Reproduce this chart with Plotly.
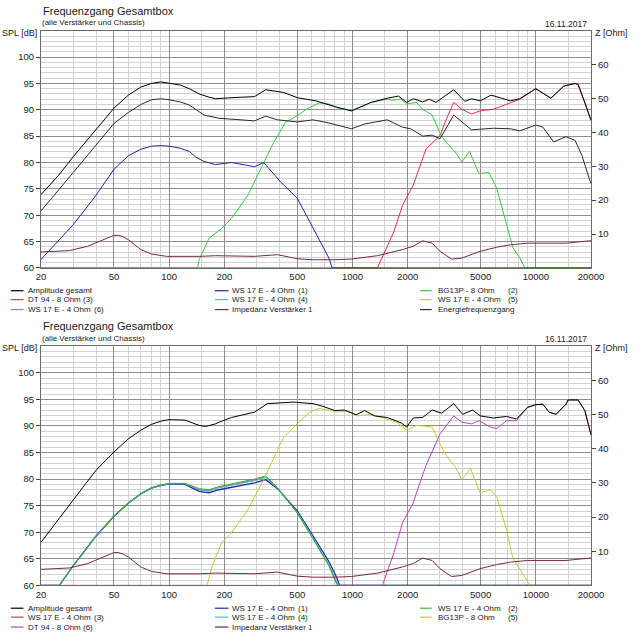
import numpy as np
import plotly.graph_objects as go

W = H = 640


def px(x):
    return x / W


def py(y):
    return 1 - y / H


FONT = "Liberation Sans, Arial, sans-serif"

# ---------------- data: upper chart ----------------
top_amp_f = [20, 25, 30, 35, 40, 45, 50, 55, 60, 70, 80, 90, 100, 115, 129, 146, 165, 179, 220, 292, 336, 421,
             500, 632, 800, 988, 1262, 1546, 1783, 1974, 2144, 2415, 2626, 2850, 3565, 4100, 4460, 4970, 5700,
             7260, 8170, 9990, 12080, 14200, 16370, 17000, 18500, 19700, 20000]
top_amp_db = [73.9, 77.6, 81.1, 83.8, 86.2, 88.4, 90.3, 91.7, 92.8, 94.3, 95.0, 95.3, 95.1, 94.7, 94.0, 93.0,
              92.4, 92.1, 92.3, 92.5, 93.8, 93.3, 92.3, 91.7, 90.6, 89.8, 91.4, 92.2, 92.6, 91.4, 92.1, 91.5,
              92.0, 91.4, 93.8, 91.6, 92.1, 91.7, 92.8, 91.7, 92.1, 94.0, 92.2, 94.5, 95.0, 94.8, 91.4, 88.6,
              88.0]

top_energy_f = [20, 25, 30, 35, 40, 45, 50, 60, 70, 80, 90, 100, 115, 129, 146, 155, 187, 292, 336, 390, 500,
                610, 743, 988, 1164, 1546, 1875, 2076, 2415, 2720, 3000, 3565, 4460, 5870, 7260, 8170, 9990,
                10930, 12500, 14600, 16370, 17850, 19700, 20000]
top_energy_db = [70.8, 74.7, 78.1, 80.9, 83.4, 85.5, 87.4, 89.5, 91.0, 91.9, 92.1, 91.9, 91.5, 90.9, 89.6,
                 89.0, 88.4, 87.9, 88.8, 88.1, 87.7, 88.1, 87.5, 86.4, 87.3, 88.1, 86.7, 86.4, 85.0, 85.2, 84.5,
                 89.0, 86.2, 86.5, 86.4, 86.0, 87.1, 86.7, 83.9, 84.9, 84.2, 81.3, 76.6, 76.0]

top_ws1_f = [20, 25, 30, 35, 40, 45, 50, 60, 70, 80, 90, 100, 115, 129, 140, 155, 179, 219, 292, 328, 406, 500,
             610, 743, 775, 20000]
top_ws1_db = [61.6, 65.2, 68.2, 71.2, 73.8, 76.4, 78.7, 81.3, 82.5, 83.1, 83.2, 83.1, 82.7, 82.1, 81.0, 80.2,
              79.6, 80.0, 79.2, 80.0, 76.3, 73.2, 67.5, 61.9, 60.0, 60.0]

top_bg2_f = [20, 143, 146, 165, 194, 219, 269, 328, 373, 430, 500, 560, 658, 743, 840, 988, 1262, 1546, 1683,
             1830, 1974, 2237, 2415, 2720, 3000, 3230, 3630, 3950, 4350, 4890, 5550, 6120, 6920, 7500, 8170,
             8700, 20000]
top_bg2_db = [60.0, 60.0, 61.6, 65.6, 67.5, 69.4, 73.8, 79.8, 83.9, 87.6, 88.9, 90.1, 91.3, 91.1, 90.3, 89.8,
              91.4, 92.0, 91.8, 92.1, 91.1, 91.4, 90.1, 89.0, 85.6, 83.9, 82.0, 80.1, 82.1, 77.9, 78.1, 75.1,
              68.2, 63.8, 61.9, 60.0, 60.0]

top_dt3_f = [20, 1368, 1683, 1875, 2144, 2237, 2520, 3000, 3230, 3565, 3950, 4460, 4970, 5870, 7260, 8170,
             9990, 11800, 12080, 14200, 16370, 17000, 18500, 19700, 20000]
top_dt3_db = [60.0, 60.0, 66.9, 71.9, 75.7, 77.6, 82.6, 85.1, 88.0, 91.4, 90.1, 89.2, 89.8, 90.1, 91.4, 92.0,
              94.0, 92.5, 92.2, 94.5, 95.0, 94.8, 91.4, 88.6, 88.0]

imp_f = [20, 28.6, 36, 43, 47, 50, 53, 56, 60, 65, 70, 80, 90, 97, 146, 179, 292, 390, 500, 610, 800, 988, 1368,
         1875, 2144, 2415, 2720, 3000, 3470, 3950, 4970, 6120, 7260, 9000, 10930, 14600, 19700, 20000]
imp_ohm = [4.7, 5.1, 6.4, 8.0, 9.0, 9.6, 9.6, 9.2, 8.3, 6.8, 5.4, 4.1, 3.6, 3.4, 3.4, 3.6, 3.4, 3.9, 2.7, 2.4,
           2.4, 2.6, 3.6, 5.4, 6.4, 8.0, 7.3, 4.9, 2.6, 2.9, 4.9, 6.1, 6.8, 7.3, 7.3, 7.3, 8.0, 8.0]

# ---------------- data: lower chart ----------------
bot_amp_f = [20, 25, 30, 35, 40, 45, 50, 60, 70, 80, 90, 100, 122, 146, 158, 179, 187, 219, 292, 343, 475, 610,
             690, 800, 900, 1046, 1164, 1317, 1546, 1748, 1858, 1974, 2144, 2415, 2720, 3060, 3565, 3990, 4520,
             4970, 5870, 6920, 7840, 9000, 9990, 10930, 11800, 12900, 14600, 15000, 17000, 18500, 19900, 20000]
bot_amp_db = [68.1, 72.4, 76.1, 79.1, 81.7, 83.6, 85.1, 87.6, 89.2, 90.3, 90.9, 91.2, 91.1, 90.1, 89.9, 90.4,
              90.7, 91.6, 92.6, 94.2, 94.5, 94.2, 93.7, 92.9, 93.0, 92.1, 92.9, 91.9, 91.6, 90.9, 90.5, 89.8,
              91.5, 91.6, 93.0, 92.4, 94.2, 92.2, 93.0, 91.9, 91.5, 91.8, 91.3, 93.5, 94.0, 94.1, 92.6, 92.2,
              94.1, 94.9, 94.9, 92.9, 88.5, 88.3]

bot_ws_f = [20, 25.2, 30, 40, 50, 60, 70, 80, 90, 100, 122, 146, 165, 187, 292, 336, 390, 500, 610, 743]
bot_ws1_db = [60.0, 60.0, 63.7, 69.3, 73.0, 75.5, 77.2, 78.3, 78.8, 79.1, 79.0, 77.7, 77.4, 78.0, 79.3, 79.9,
              78.2, 74.0, 69.3, 64.5]
bot_ws1_tail_f = [820, 850, 20000]
bot_ws1_tail_db = [61.5, 60.0, 60.0]
bot_ws2_db = [60.0, 60.0, 63.7, 69.3, 73.0, 75.5, 77.3, 78.4, 78.9, 79.2, 79.2, 78.2, 78.0, 78.6, 80.0, 80.6,
              78.4, 73.6, 68.7, 63.7]
bot_ws2_tail_f = [810, 830, 20000]
bot_ws2_tail_db = [60.6, 60.0, 60.0]
bot_ws3_db = [60.0, 60.0, 63.7, 69.3, 73.0, 75.5, 77.2, 78.3, 78.8, 79.1, 79.1, 78.0, 77.8, 78.4, 79.8, 80.4,
              78.3, 73.7, 68.9, 63.9]
bot_ws3_tail_f = [815, 835, 20000]
bot_ws3_tail_db = [60.7, 60.0, 60.0]
bot_ws4_db = [60.0, 60.0, 63.7, 69.3, 73.0, 75.5, 77.2, 78.3, 78.8, 79.1, 79.1, 78.0, 77.7, 78.4, 79.7, 80.3,
              78.2, 73.8, 69.0, 64.0]
bot_ws4_tail_f = [815, 840, 20000]
bot_ws4_tail_db = [60.8, 60.0, 60.0]

bot_bg5_f = [25, 161, 172, 194, 219, 269, 328, 373, 421, 500, 585, 658, 743, 840, 943, 1070, 1262, 1546, 1748,
             1974, 2237, 2415, 2720, 3000, 3230, 3630, 3950, 4400, 4970, 5650, 6120, 6920, 7500, 8170, 9000,
             9300, 20000]
bot_bg5_db = [60.0, 60.0, 63.7, 68.1, 69.9, 74.3, 79.9, 84.2, 87.9, 90.4, 92.6, 93.3, 93.0, 92.6, 92.9, 91.9,
              92.2, 91.3, 90.7, 89.2, 90.1, 90.0, 89.8, 86.7, 84.5, 82.3, 79.9, 82.0, 77.4, 78.0, 76.7, 70.5,
              65.0, 63.1, 60.6, 60.0, 60.0]

bot_dt6_f = [20, 1455, 1683, 1875, 2144, 2237, 2520, 3000, 3565, 3950, 4460, 4890, 5650, 6120, 6920, 7840, 9000,
             9990, 10930, 11800, 12900, 14600, 15000, 17000, 18500, 19900, 20000]
bot_dt6_db = [60.0, 60.0, 66.2, 71.8, 75.5, 77.5, 82.6, 88.5, 91.9, 90.7, 90.4, 91.0, 89.8, 89.5, 91.0, 91.0,
              93.5, 94.0, 94.1, 92.6, 92.2, 94.1, 94.9, 94.9, 92.9, 88.5, 88.3]

# ---------------- axis ticks ----------------
x_major = [20, 50, 100, 200, 500, 1000, 2000, 5000, 10000, 20000]
x_minor = [30, 40, 60, 70, 80, 90, 150, 300, 400, 600, 700, 800, 900, 1500, 3000, 4000, 6000, 7000, 8000,
           9000, 15000]
spl_major = [60, 65, 70, 75, 80, 85, 90, 95, 100]
spl_minor = [v for v in range(61, 105) if v % 5]
z_major = [10, 20, 30, 40, 50, 60]

# ---------------- legends ----------------
top_legend = [
    ("Amplitude gesamt", "", "#000000"),
    ("DT 94 - 8 Ohm (3)", "", "#e0304c"),
    ("WS 17 E - 4 Ohm", "(6)", "#b070b0"),
    ("WS 17 E - 4 Ohm", "(1)", "#26269a"),
    ("WS 17 E - 4 Ohm", "(4)", "#4cc4dc"),
    ("Impedanz Verstärker 1", "", "#7a2a44"),
    ("BG13P - 8 Ohm", "(2)", "#3cc83c"),
    ("WS 17 E - 4 Ohm", "(5)", "#c8c83c"),
    ("Energiefrequenzgang", "", "#303030"),
]
bot_legend = [
    ("Amplitude gesamt", "", "#000000"),
    ("WS 17 E - 4 Ohm", "(3)", "#e0304c"),
    ("DT 94 - 8 Ohm (6)", "", "#c040c0"),
    ("WS 17 E - 4 Ohm", "(1)", "#26269a"),
    ("WS 17 E - 4 Ohm", "(4)", "#30c8e0"),
    ("Impedanz Verstärker 1", "", "#7a2a44"),
    ("WS 17 E - 4 Ohm", "(2)", "#3cb83c"),
    ("BG13P - 8 Ohm", "(5)", "#c8c83c"),
]

C_BLACK = "#000000"
C_ENERGY = "#2a2a2a"
C_RED = "#e0304c"
C_GREEN = "#3cc83c"
C_GREEN2 = "#38a838"
C_NAVY = "#26269a"
C_CYAN = "#30c8e0"
C_YELLOW = "#c8c83c"
C_MAGENTA = "#c040c0"
C_IMP = "#7a2a44"

fig = go.Figure()


def add(f, v, color, xa, ya, width=1.0):
    fig.add_trace(go.Scatter(x=f, y=v, mode="lines", line=dict(color=color, width=width),
                             xaxis=xa, yaxis=ya, showlegend=False, hoverinfo="skip"))


# upper chart
add(imp_f, imp_ohm, C_IMP, "x", "y2")
add(top_dt3_f, top_dt3_db, C_RED, "x", "y")
add(top_bg2_f, top_bg2_db, C_GREEN, "x", "y")
add(top_ws1_f, top_ws1_db, C_NAVY, "x", "y")
add(top_energy_f, top_energy_db, C_ENERGY, "x", "y")
add(top_amp_f, top_amp_db, C_BLACK, "x", "y")

# lower chart
add(imp_f, imp_ohm, C_IMP, "x2", "y4")
add(bot_ws_f + bot_ws3_tail_f, bot_ws3_db + bot_ws3_tail_db, C_RED, "x2", "y3")
add(bot_ws_f + bot_ws1_tail_f, bot_ws1_db + bot_ws1_tail_db, C_NAVY, "x2", "y3", 1.3)
add(bot_ws_f + bot_ws4_tail_f, bot_ws4_db + bot_ws4_tail_db, C_CYAN, "x2", "y3")
add(bot_ws_f + bot_ws2_tail_f, bot_ws2_db + bot_ws2_tail_db, C_GREEN2, "x2", "y3")
add(bot_dt6_f, bot_dt6_db, C_MAGENTA, "x2", "y3")
add(bot_bg5_f, bot_bg5_db, C_YELLOW, "x2", "y3")
add(bot_amp_f, bot_amp_db, C_BLACK, "x2", "y3")

GRID_MAJ = "#8e8e8e"
GRID_MIN = "#d2d2d2"
FRAME = "#6a6a6a"
TICKFONT = dict(family=FONT, size=9.5, color="#1a1a1a")


def xaxis_cfg(anchor):
    return dict(type="log", range=[np.log10(20), np.log10(20000)], domain=[px(37), px(603)], anchor=anchor,
                tickmode="array", tickvals=x_major, ticktext=[str(v) for v in x_major],
                showgrid=True, gridcolor=GRID_MAJ, gridwidth=1,
                minor=dict(tickmode="array", tickvals=x_minor, showgrid=True, gridcolor=GRID_MIN,
                           gridwidth=1, ticks=""),
                showline=True, linecolor=FRAME, linewidth=1, mirror=True, ticks="",
                tickfont=TICKFONT, zeroline=False, fixedrange=True)


def yaxis_cfg(anchor, dom):
    return dict(range=[60, 105], domain=dom, anchor=anchor, tickmode="array", tickvals=spl_major,
                ticktext=[str(v) for v in spl_major], showgrid=True, gridcolor=GRID_MAJ, gridwidth=1,
                minor=dict(tickmode="array", tickvals=spl_minor, showgrid=True, gridcolor=GRID_MIN,
                           gridwidth=1, ticks=""),
                showline=True, linecolor=FRAME, linewidth=1, mirror=True, ticks="outside", ticklen=4,
                tickcolor="#444444", tickfont=TICKFONT, zeroline=False, fixedrange=True)


def zaxis_cfg(anchor, over):
    return dict(range=[0, 70], overlaying=over, side="right", anchor=anchor, tickmode="array",
                tickvals=z_major, ticktext=[str(v) for v in z_major], showgrid=False, showline=False,
                ticks="outside", ticklen=4, tickcolor="#444444", tickfont=TICKFONT, zeroline=False,
                fixedrange=True)


top_dom = [py(270), py(31)]
bot_dom = [py(590), py(349)]

fig.update_layout(
    width=W, height=H, margin=dict(l=0, r=0, t=0, b=0),
    paper_bgcolor="white", plot_bgcolor="white",
    font=dict(family=FONT, color="#1a1a1a"),
    showlegend=False,
    xaxis=xaxis_cfg("y"), yaxis=yaxis_cfg("x", top_dom), yaxis2=zaxis_cfg("x", "y"),
    xaxis2=xaxis_cfg("y3"), yaxis3=yaxis_cfg("x2", bot_dom), yaxis4=zaxis_cfg("x2", "y3"),
)

annotations = []
shapes = []


def text(x, y, s, size, anchor="left", color="#1a1a1a"):
    annotations.append(dict(x=px(x), y=py(y), xref="paper", yref="paper", text=s, showarrow=False,
                            xanchor=anchor, yanchor="middle", font=dict(family=FONT, size=size, color=color)))


def header(dy):
    text(37, 11 + dy, "Frequenzgang Gesamtbox", 11)
    text(36, 23 + dy, "(alle Verstärker und Chassis)", 8)
    text(601, 24 + dy, "16.11.2017", 8.5, "right")
    text(35, 33 + dy, "SPL [dB]", 9, "right")
    text(605, 33 + dy, "Z [Ohm]", 9)


header(0)
header(318)

col_x = [(6, 19, 22, 90), (216, 230, 232, 299), (427, 439, 443, 516)]


def legend(entries, rows):
    for i, (label, suffix, color) in enumerate(entries):
        c, r = divmod(i, 3)
        x0, x1, tx, sx = col_x[c]
        y = rows[r]
        shapes.append(dict(type="line", xref="paper", yref="paper", x0=px(x0), x1=px(x1), y0=py(y), y1=py(y),
                           line=dict(color=color, width=1.2)))
        text(tx, y, label, 8)
        if suffix:
            text(sx, y, suffix, 8)


legend(top_legend, [293, 302, 312])
legend(bot_legend, [613, 622, 632])

fig.update_layout(annotations=annotations, shapes=shapes)
fig.write_html("out.html")
